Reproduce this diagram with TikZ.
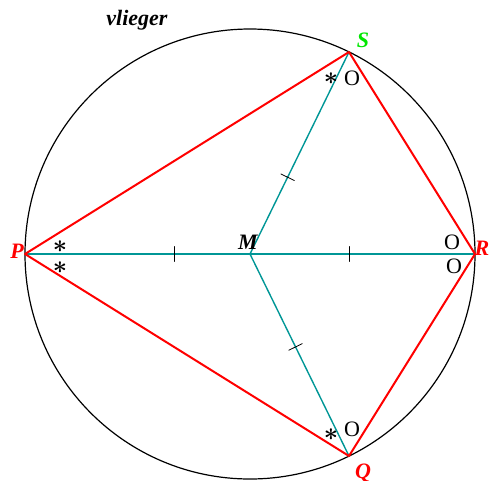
\documentclass[tikz,border=0pt]{standalone}
\usepackage{fontspec}
\setmainfont{Liberation Serif}
\usetikzlibrary{calc}
\definecolor{kitegreen}{RGB}{0,230,0}
\definecolor{kiteteal}{RGB}{0,150,150}
\tikzset{
  lbl/.style={font=\fontsize{22}{24}\selectfont\bfseries\itshape},
  hoek/.style={font=\fontsize{22}{24}\selectfont},
  ster/.style={font=\fontsize{27}{28}\selectfont\boldmath,inner sep=0pt},
  straal/.style={color=kiteteal,line width=1.4pt},
  zijde/.style={color=red,line width=2pt},
  streep/.style={color=black,line width=0.8pt}
}
\begin{document}
\begin{tikzpicture}[line cap=round,line join=round,x=1pt,y=-1pt]
		\useasboundingbox (0,0) rectangle (494,480);
		\coordinate (M) at (250,254);
		\coordinate (P) at (25,254);
		\coordinate (R) at (475,254);
		\coordinate (S) at (349,52);
		\coordinate (Q) at (349,456);
		\draw[color=black,line width=1.2pt] (M) circle (225);
		\draw[straal] (P) -- (R);
		\draw[straal] (M) -- (S);
		\draw[straal] (M) -- (Q);
		\draw[zijde] (P) -- (S) -- (R) -- (Q) -- cycle;
		% streepjes
		\coordinate (tP) at ($(M)!0.335!(P)$);
		\coordinate (tR) at ($(M)!0.44!(R)$);
		\coordinate (tS) at ($(M)!0.38!(S)$);
		\coordinate (tQ) at ($(M)!0.46!(Q)$);
		\foreach \t/\e in {tP/P,tR/R,tS/S,tQ/Q}
			\draw[streep] ($(\t)!7.5pt!90:(\e)$) -- ($(\t)!7.5pt!-90:(\e)$);
		% labels
		\node[lbl] (titel) at (137,20) {vlieger};
		\node[lbl] (lM) at (248,242) {M};
		\node[lbl,color=red] (lP) at (17,251) {P};
		\node[lbl,color=red] (lR) at (482,248) {R};
		\node[lbl,color=kitegreen] (lS) at (363,40) {S};
		\node[lbl,color=red] (lQ) at (363,473) {Q};
		% hoeken
		\node[ster] (sP1) at (60,247) {$\ast$};
		\node[ster] (sP2) at (60,268) {$\ast$};
		\node[ster] (sS) at (331,79) {$\ast$};
		\node[ster] (sQ) at (331,435) {$\ast$};
		\node[hoek] (oS) at (352,78) {O};
		\node[hoek] (oQ) at (352,429) {O};
		\node[hoek] (oR1) at (452,242) {O};
		\node[hoek] (oR2) at (454,266) {O};
	\end{tikzpicture}
\end{document}
